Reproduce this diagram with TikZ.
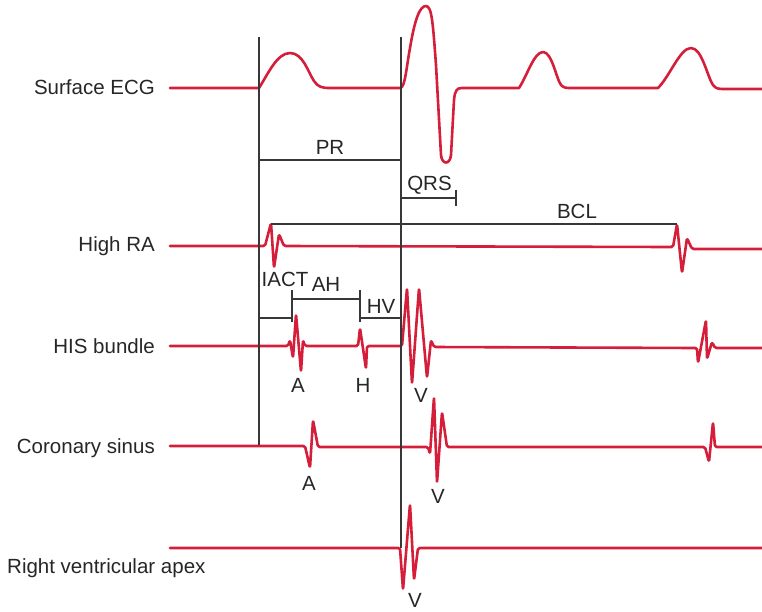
\documentclass[tikz,border=0pt]{standalone}
\usepackage{fontspec}
\setmainfont{Liberation Sans}
\definecolor{ecgred}{RGB}{212,30,58}
\definecolor{guide}{RGB}{55,55,55}
\tikzset{
  trace/.style={draw=ecgred, line width=2.6pt, line join=round, line cap=round},
  spike/.style={trace, rounded corners=1.6pt},
  guideline/.style={draw=guide, line width=1.2pt},
  lbl/.style={font=\fontsize{20.5}{24}\selectfont, text=black!85, inner sep=0pt},
}
\begin{document}
\begin{tikzpicture}[x=1pt,y=-1pt]
\useasboundingbox (0,0) rectangle (762,611);

% ---------- coordinates ----------
\coordinate (l1top) at (259,37);
\coordinate (l1bot) at (259,445);
\coordinate (l2top) at (401,37);
\coordinate (l2bot) at (401,548);

% ---------- traces ----------
% Surface ECG
\draw[trace] (170,88) -- (259,88)
  .. controls (268,74) and (277,53) .. (290,53)
  .. controls (303,53) and (308,72) .. (314,81)
  .. controls (318,87) and (322,88) .. (330,88) -- (400,88)
  .. controls (405,88) and (406,70) .. (410,48)
  .. controls (415,18) and (420,6) .. (426,6)
  .. controls (432,6) and (433,25) .. (436,65)
  -- (441,155) .. controls (442,165) and (450,165) .. (451,155)
  -- (454,100) .. controls (455,90) and (457,88) .. (462,88)
  -- (519,88)
  .. controls (527,76) and (534,52) .. (543,52)
  .. controls (552,52) and (556,78) .. (561,85)
  .. controls (564,88) and (566,88) .. (572,88) -- (658,88)
  .. controls (670,76) and (680,48) .. (691,48)
  .. controls (702,48) and (707,76) .. (713,85)
  .. controls (716,89) and (719,89) .. (725,89) -- (762,89);

% High RA
\draw[spike] (170,246) -- (265,246) -- (271,223) -- (274,268) -- (279,234) -- (284,246) -- (673,247)
  -- (677,224) -- (682,273) -- (687,238) -- (692,249) -- (762,249);

% HIS bundle
\draw[spike] (170,346) -- (288,346) -- (290,340) -- (293,358) -- (296,314) -- (301,372) -- (303,340)
  -- (305,346) -- (358,346) -- (360,328) -- (366,369) -- (367,346) -- (402,346)
  -- (407,288) -- (412,384) -- (419,288) -- (427,378) -- (431,340) -- (434,347)
  -- (697,348) -- (698,363) -- (706,320) -- (707,359) -- (712,342) -- (715,348) -- (762,348);

% Coronary sinus
\draw[spike] (170,446) -- (305,446) -- (310,468) -- (313,420) -- (318,447) -- (428,447)
  -- (430,454) -- (434,397) -- (437,483) -- (442,412) -- (447,447) -- (705,447)
  -- (709,462) -- (713,422) -- (715,447) -- (762,447);

% Right ventricular apex
\draw[spike] (170,548) -- (400,548) -- (403,590) -- (410,504) -- (414,580) -- (418,548) -- (762,548);

% ---------- guide lines ----------
\draw[guideline] (l1top) -- (l1bot);
\draw[guideline] (l2top) -- (l2bot);

% PR
\coordinate (prL) at (259,160);
\coordinate (prR) at (401,160);
\draw[guideline] (prL) -- (prR);
% QRS
\coordinate (qrsL) at (401,198);
\coordinate (qrsR) at (456,198);
\coordinate (qrsT1) at (456,190);
\coordinate (qrsT2) at (456,206);
\draw[guideline] (qrsL) -- (qrsR);
\draw[guideline] (qrsT1) -- (qrsT2);
% BCL
\coordinate (bclL) at (271,224);
\coordinate (bclR) at (677,224);
\draw[guideline] (bclL) -- (bclR);
% IACT, AH, HV
\coordinate (iactL) at (259,318);
\coordinate (iactR) at (292,318);
\coordinate (tk1a) at (292,290);
\coordinate (tk1b) at (292,322);
\coordinate (ahL) at (292,299);
\coordinate (ahR) at (360,299);
\coordinate (tk2a) at (360,290);
\coordinate (tk2b) at (360,322);
\coordinate (hvL) at (360,318);
\coordinate (hvR) at (401,318);
\draw[guideline] (iactL) -- (iactR);
\draw[guideline] (tk1a) -- (tk1b);
\draw[guideline] (ahL) -- (ahR);
\draw[guideline] (tk2a) -- (tk2b);
\draw[guideline] (hvL) -- (hvR);

% ---------- labels ----------
\node[lbl, anchor=base east] (tecg) at (155,94) {Surface ECG};
\node[lbl, anchor=base east] (tra) at (155,251) {High RA};
\node[lbl, anchor=base east] (this) at (155,353) {HIS bundle};
\node[lbl, anchor=base east] (tcs) at (155,453) {Coronary sinus};
\node[lbl, anchor=base west] (trv) at (7,573) {Right ventricular apex};

\node[lbl, anchor=base] (tpr) at (330,154) {PR};
\node[lbl, anchor=base] (tqrs) at (429.5,190) {QRS};
\node[lbl, anchor=base] (tbcl) at (577,218) {BCL};
\node[lbl, anchor=base] (tiact) at (285,286) {IACT};
\node[lbl, anchor=base] (tah) at (326,291) {AH};
\node[lbl, anchor=base] (thv) at (381,313) {HV};

\node[lbl, anchor=base] (ta1) at (298,392) {A};
\node[lbl, anchor=base] (th1) at (363,392) {H};
\node[lbl, anchor=base] (tv1) at (421,402) {V};
\node[lbl, anchor=base] (ta2) at (309,490) {A};
\node[lbl, anchor=base] (tv2) at (438,503) {V};
\node[lbl, anchor=base] (tv3) at (415,607) {V};
\end{tikzpicture}
\end{document}
